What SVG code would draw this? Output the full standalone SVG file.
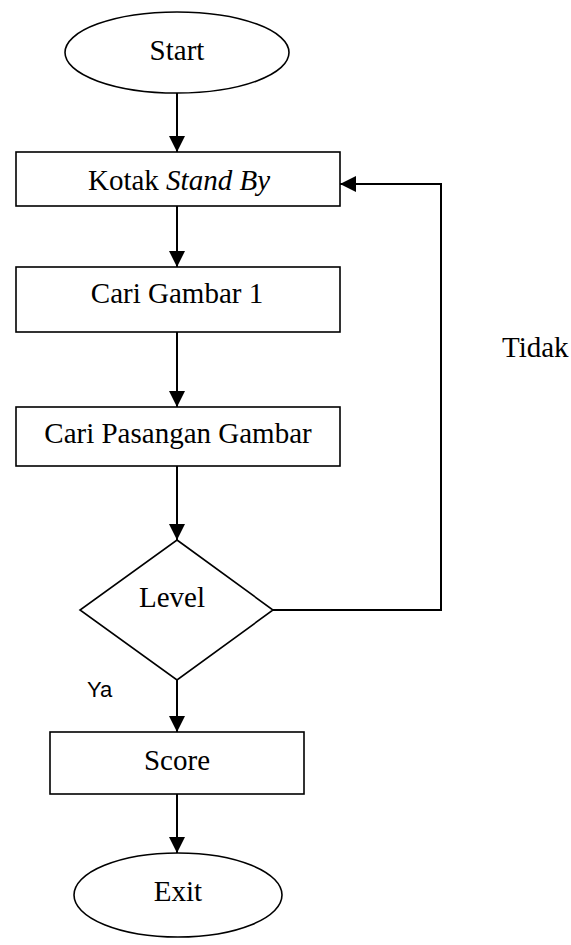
<svg xmlns="http://www.w3.org/2000/svg" width="571" height="945" viewBox="0 0 571 945">
  <style>
    .shape { fill: #ffffff; stroke: #000000; stroke-width: 1.6; }
    .conn { fill: none; stroke: #000000; stroke-width: 2; }
    .lbl { font-family: "Liberation Serif", "Times New Roman", serif; font-size: 29px; fill: #000000; text-anchor: middle; }
    .sans { font-family: "Liberation Sans", Arial, sans-serif; font-size: 22px; fill: #000000; }
  </style>
  <defs>
    <marker id="arrow" markerUnits="userSpaceOnUse" markerWidth="16" markerHeight="16" viewBox="0 0 16 16" refX="16" refY="8" orient="auto">
      <path d="M0,0 L16,8 L0,16 Z" fill="#000000"/>
    </marker>
  </defs>
  <rect width="571" height="945" fill="#ffffff"/>

  <g id="connectors">
    <line class="conn" x1="177" y1="93" x2="177" y2="152" marker-end="url(#arrow)"/>
    <line class="conn" x1="177" y1="206" x2="177" y2="267" marker-end="url(#arrow)"/>
    <line class="conn" x1="177" y1="332" x2="177" y2="407" marker-end="url(#arrow)"/>
    <line class="conn" x1="177" y1="466" x2="177" y2="540" marker-end="url(#arrow)"/>
    <line class="conn" x1="177" y1="680" x2="177" y2="732" marker-end="url(#arrow)"/>
    <line class="conn" x1="177" y1="794" x2="177" y2="853" marker-end="url(#arrow)"/>
    <polyline class="conn" points="273,610 441,610 441,184 340,184" marker-end="url(#arrow)"/>
    <text class="lbl" x="502" y="357" style="text-anchor:start">Tidak</text>
    <text class="sans" x="87" y="697">Ya</text>
  </g>

  <g id="start">
    <ellipse class="shape" cx="177" cy="52.5" rx="112" ry="40.5"/>
    <text class="lbl" x="177" y="60">Start</text>
  </g>

  <g id="kotak">
    <rect class="shape" x="16" y="152" width="324" height="54"/>
    <text class="lbl" x="179" y="190">Kotak <tspan font-style="italic">Stand By</tspan></text>
  </g>

  <g id="cari1">
    <rect class="shape" x="16" y="267" width="324" height="65"/>
    <text class="lbl" x="177" y="303">Cari Gambar 1</text>
  </g>

  <g id="pasangan">
    <rect class="shape" x="16" y="407" width="324" height="59"/>
    <text class="lbl" x="178" y="443">Cari Pasangan Gambar</text>
  </g>

  <g id="level">
    <polygon class="shape" points="177,540 273,610 177,680 80,610"/>
    <text class="lbl" x="172" y="607">Level</text>
  </g>

  <g id="score">
    <rect class="shape" x="50" y="732" width="254" height="62"/>
    <text class="lbl" x="177" y="770">Score</text>
  </g>

  <g id="exit">
    <ellipse class="shape" cx="178" cy="895" rx="104" ry="42"/>
    <text class="lbl" x="178" y="901">Exit</text>
  </g>
</svg>
